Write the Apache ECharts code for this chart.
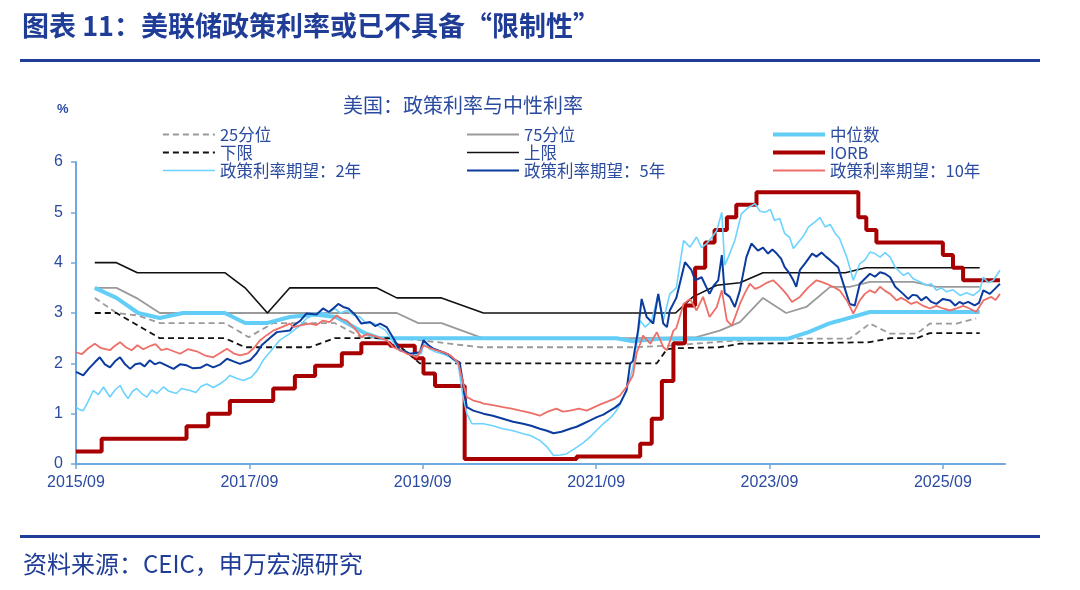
<!DOCTYPE html>
<html>
<head>
<meta charset="utf-8">
<script src="https://cdn.jsdelivr.net/npm/echarts@6/dist/echarts.min.js"></script>
<style>
  html, body { margin: 0; padding: 0; background: #fff; }
  #chart { width: 1080px; height: 590px; }
</style>
</head>
<body>
<div id="chart"></div>
<script>
// x values are months counted from 2015/09
const xTicks = ['2015/09', '2017/09', '2019/09', '2021/09', '2023/09', '2025/09'];

const q25 = [[2.6,3.3],[5.6,3.0],[8.6,2.95],[11.6,2.8],[20.6,2.8],[23.9,2.52],[27.3,2.8],[35.8,2.8],[39.5,2.52],[44,2.5],[47.6,2.46],[55.9,2.32],[77.1,2.32],[82,2.35],[90.1,2.44],[98.6,2.49],[107.1,2.49],[109.9,2.79],[112.7,2.59],[116.4,2.59],[118.2,2.79],[121.9,2.79],[124.6,2.89]];
const q75 = [[2.6,3.5],[5.6,3.5],[8.6,3.28],[11.6,3.0],[44.4,3.0],[47.4,2.8],[50.6,2.8],[55.9,2.52],[56.4,2.5],[77.1,2.5],[85.9,2.52],[89.1,2.65],[91.9,2.82],[95.1,3.3],[98.3,3.0],[101.1,3.12],[104.4,3.52],[107.1,3.52],[109.9,3.62],[115.9,3.62],[119.1,3.52],[125.1,3.52]];
const median = [[2.6,3.5],[5.6,3.3],[8.6,3.0],[11.6,2.9],[14.8,3.0],[20.6,3.0],[23.4,2.8],[26.4,2.8],[29.6,2.92],[33,2.97],[36,2.92],[40,2.6],[42,2.5],[74.8,2.5],[77.1,2.44],[80.8,2.49],[98.6,2.49],[101.4,2.62],[104.2,2.79],[105.7,2.85],[109.9,3.02],[125.1,3.02]];
const lower = [[2.6,3.0],[5.6,3.0],[11.6,2.5],[20.6,2.5],[23.4,2.32],[32.4,2.32],[35.8,2.5],[43.5,2.5],[47.6,2.0],[80.4,2.0],[81.8,2.28],[83,2.3],[89.1,2.32],[91.9,2.39],[105.7,2.41],[109.9,2.42],[112.7,2.5],[116.4,2.5],[118.2,2.6],[125.1,2.6]];
const upper = [[2.6,4.0],[5.6,4.0],[8.5,3.8],[20.6,3.8],[23.4,3.5],[26.5,3.0],[29.6,3.5],[41.6,3.5],[44.4,3.3],[50.6,3.3],[56.4,3.0],[83.0,3.0],[85.4,3.32],[88.7,3.55],[91.9,3.6],[95.1,3.8],[106.5,3.8],[109.3,3.9],[125.1,3.9]];
const iorb = [[0,0.25],[3.55,0.5],[15.3,0.75],[18.3,1.0],[21.3,1.25],[27.3,1.5],[30.3,1.75],[33.1,1.95],[36.8,2.2],[39.5,2.4],[43.5,2.35],[46.9,2.1],[48.1,1.8],[49.7,1.55],[53.8,0.1],[69.3,0.15],[78.1,0.4],[79.7,0.9],[81.1,1.65],[82.7,2.4],[84.3,3.15],[85.7,3.9],[87.1,4.4],[88.4,4.65],[90.1,4.9],[91.4,5.15],[94.2,5.4],[108.3,4.9],[109.4,4.65],[110.8,4.4],[120.0,4.15],[121.4,3.9],[122.8,3.65],[127.9,3.65]];
const exp2y = [[0,1.13],[0.5,1.08],[1.0,1.06],[1.6,1.22],[2.4,1.46],[3.1,1.38],[3.8,1.53],[4.7,1.33],[5.4,1.47],[6.1,1.56],[6.7,1.40],[7.2,1.30],[7.8,1.44],[8.4,1.50],[9.1,1.40],[9.8,1.33],[10.5,1.47],[11.2,1.40],[12.1,1.53],[12.8,1.45],[13.9,1.40],[14.6,1.50],[15.8,1.46],[16.6,1.42],[17.3,1.54],[18.1,1.59],[19.0,1.52],[19.9,1.59],[20.6,1.66],[21.3,1.76],[22.3,1.70],[23.2,1.66],[24.3,1.73],[25.1,1.86],[25.9,2.06],[27.0,2.25],[28.2,2.46],[29.6,2.59],[30.1,2.65],[31.0,2.75],[31.9,2.89],[32.8,2.95],[33.8,3.02],[34.7,2.98],[35.8,3.09],[36.6,3.00],[37.5,3.05],[38.4,2.96],[39.3,2.92],[40.2,2.79],[41.2,2.80],[42.1,2.72],[42.8,2.66],[43.5,2.52],[44.1,2.38],[44.8,2.26],[45.6,2.24],[46.5,2.16],[47.8,2.19],[48.1,2.39],[49.0,2.28],[49.9,2.22],[50.9,2.18],[51.8,2.12],[52.9,1.99],[53.5,1.40],[54.1,1.00],[54.8,0.80],[55.9,0.80],[56.4,0.80],[57.7,0.76],[59.1,0.70],[60.5,0.66],[61.9,0.60],[63.0,0.56],[64.2,0.47],[65.2,0.34],[66.1,0.17],[67.0,0.18],[67.9,0.20],[69.3,0.33],[70.2,0.42],[71.1,0.53],[72.0,0.66],[73.0,0.80],[74.0,0.92],[74.8,1.06],[75.5,1.24],[76.2,1.46],[77.1,1.92],[78.1,2.85],[78.8,2.72],[79.7,2.85],[80.6,3.38],[81.3,2.85],[82.2,3.38],[83.1,3.50],[84.1,4.44],[85.0,4.31],[85.9,4.51],[86.6,4.30],[87.3,4.38],[88.0,4.50],[88.7,4.64],[89.4,5.00],[89.8,3.95],[90.3,4.11],[91.2,4.44],[92.1,4.97],[93.1,5.10],[94.0,5.17],[94.7,5.02],[95.4,5.00],[96.1,5.06],[96.7,4.84],[97.4,4.88],[98.1,4.58],[98.8,4.50],[99.3,4.28],[100.2,4.44],[100.8,4.55],[101.4,4.71],[102.3,4.81],[103.0,4.90],[103.7,4.71],[104.4,4.76],[105.1,4.58],[105.7,4.48],[106.7,4.11],[107.6,3.65],[108.5,3.98],[109.2,4.05],[109.9,4.21],[110.6,4.18],[111.3,4.11],[112.0,4.20],[112.7,4.11],[113.4,3.91],[114.5,3.75],[115.2,3.80],[115.9,3.68],[116.8,3.62],[117.7,3.55],[118.4,3.58],[119.1,3.45],[119.8,3.50],[120.5,3.42],[121.4,3.46],[122.4,3.35],[123.3,3.40],[124.2,3.35],[125.1,3.45],[125.6,3.71],[126.3,3.60],[127.0,3.65],[127.9,3.85]];
const exp5y = [[0,1.83],[1.0,1.76],[1.8,1.90],[2.6,2.02],[3.3,2.12],[4.0,1.98],[4.7,1.92],[5.4,2.04],[6.1,2.12],[6.8,1.98],[7.5,1.89],[8.2,1.98],[8.9,2.0],[9.5,1.94],[10.2,2.06],[10.9,1.98],[11.6,2.02],[12.5,1.96],[13.5,1.89],[14.4,1.98],[15.3,1.96],[16.2,1.90],[17.2,1.91],[18.1,1.98],[19.0,1.92],[20.0,1.98],[20.9,2.09],[21.8,2.04],[22.7,1.99],[24.1,2.06],[25.0,2.20],[25.7,2.36],[26.8,2.50],[27.8,2.62],[29.6,2.65],[30.1,2.75],[31.0,2.84],[31.9,2.99],[33.3,2.97],[34.2,3.09],[35.0,3.02],[35.6,3.09],[36.3,3.18],[37.0,3.12],[37.7,3.09],[38.6,2.97],[39.5,2.79],[40.7,2.82],[41.4,2.74],[42.1,2.79],[43.0,2.72],[44.1,2.46],[44.8,2.26],[45.5,2.24],[46.2,2.19],[47.6,2.22],[48.1,2.46],[48.8,2.36],[49.5,2.29],[50.8,2.22],[51.5,2.18],[52.2,2.09],[53.1,2.02],[53.6,1.59],[54.1,1.13],[55.0,1.06],[56.4,1.0],[57.7,0.96],[59.1,0.9],[60.5,0.84],[61.9,0.8],[63.0,0.76],[64.2,0.7],[65.2,0.66],[66.1,0.61],[67.2,0.64],[68.4,0.7],[69.3,0.74],[70.2,0.8],[71.1,0.86],[72.1,0.93],[73.0,0.98],[73.9,1.06],[74.6,1.12],[75.3,1.2],[76.2,1.46],[76.7,1.99],[77.1,2.05],[77.8,2.65],[78.3,3.28],[79.0,2.92],[79.9,2.79],[80.6,3.38],[81.3,2.79],[81.8,2.72],[82.2,3.05],[83.1,3.30],[84.3,4.01],[85.2,3.85],[85.7,3.65],[86.6,3.71],[87.7,3.38],[88.3,3.55],[88.9,3.65],[89.4,4.15],[89.8,3.40],[90.5,3.32],[91.2,3.12],[91.9,3.45],[92.8,4.11],[93.5,4.38],[94.4,4.24],[95.1,4.30],[95.8,4.18],[96.4,4.26],[97.0,4.18],[97.6,4.08],[98.1,3.91],[98.7,3.80],[99.3,3.65],[99.7,3.52],[100.2,3.85],[101.0,4.00],[101.9,4.18],[102.5,4.12],[103.2,4.20],[103.8,4.12],[104.4,4.05],[105.5,3.91],[106.4,3.50],[107.1,3.18],[107.8,3.15],[108.5,3.58],[109.2,3.68],[109.9,3.78],[110.6,3.72],[111.3,3.81],[112.0,3.78],[112.7,3.71],[113.4,3.52],[114.5,3.38],[115.2,3.28],[115.8,3.36],[116.4,3.35],[117.0,3.25],[117.7,3.32],[118.4,3.22],[119.1,3.18],[120.0,3.28],[121.0,3.25],[121.7,3.15],[122.3,3.22],[122.8,3.18],[123.5,3.22],[124.4,3.15],[125.0,3.20],[125.6,3.45],[126.5,3.38],[127.2,3.48],[127.9,3.58]];
const exp10y = [[0,2.22],[0.8,2.18],[1.7,2.30],[2.6,2.39],[3.5,2.30],[4.7,2.26],[5.3,2.34],[6.1,2.42],[6.9,2.32],[7.7,2.26],[8.5,2.36],[9.3,2.28],[10.2,2.34],[11.0,2.38],[11.8,2.26],[12.6,2.29],[13.5,2.24],[14.4,2.19],[15.5,2.28],[16.7,2.24],[17.8,2.16],[19.0,2.12],[19.9,2.20],[20.9,2.29],[21.8,2.20],[22.7,2.16],[23.8,2.2],[24.6,2.30],[25.5,2.46],[26.4,2.56],[27.3,2.65],[28.5,2.72],[29.6,2.79],[30.1,2.72],[31.2,2.76],[32.4,2.79],[33.3,2.76],[34.2,2.85],[35.1,2.82],[36.1,2.95],[36.8,2.88],[37.5,2.85],[38.6,2.69],[39.5,2.52],[40.3,2.58],[41.1,2.55],[42.1,2.50],[43.0,2.46],[43.9,2.32],[44.9,2.26],[45.8,2.19],[46.5,2.16],[47.2,2.12],[48.1,2.36],[49.0,2.30],[49.9,2.26],[50.9,2.22],[51.8,2.16],[52.9,2.02],[53.5,1.66],[54.1,1.33],[55.0,1.26],[55.9,1.23],[56.4,1.2],[57.7,1.17],[59.1,1.13],[60.3,1.10],[61.5,1.06],[62.8,1.02],[64.2,0.96],[65.3,1.04],[66.5,1.1],[67.4,1.04],[68.4,1.06],[69.6,1.10],[70.7,1.06],[71.6,1.12],[72.5,1.18],[73.2,1.22],[73.9,1.26],[74.6,1.30],[75.3,1.36],[76.2,1.53],[77.1,1.76],[77.6,2.20],[78.1,2.39],[78.5,2.55],[79.5,2.39],[80.4,2.62],[81.3,2.32],[81.8,2.26],[82.7,2.65],[83.1,2.70],[84.1,3.18],[85.0,3.28],[85.9,3.05],[86.8,3.32],[87.7,2.92],[88.7,3.12],[89.4,3.45],[90.1,2.85],[90.8,2.75],[91.9,3.18],[92.6,3.40],[93.3,3.58],[94.0,3.48],[94.7,3.52],[95.6,3.60],[96.5,3.65],[97.2,3.56],[97.9,3.45],[98.5,3.35],[99.1,3.22],[100.2,3.32],[101.3,3.50],[102.5,3.65],[103.2,3.62],[103.9,3.58],[104.8,3.52],[105.7,3.45],[106.7,3.25],[107.6,2.99],[108.5,3.25],[109.2,3.38],[109.9,3.45],[110.6,3.40],[111.3,3.52],[112.0,3.44],[112.7,3.38],[113.6,3.25],[114.2,3.30],[114.9,3.25],[115.6,3.18],[116.4,3.22],[117.3,3.14],[118.2,3.09],[119.1,3.14],[120.0,3.09],[121.0,3.05],[121.9,3.09],[122.8,3.14],[123.7,3.09],[124.6,3.02],[125.6,3.25],[126.7,3.32],[127.3,3.26],[127.9,3.38]];

const navy = '#1f3c96';
const textBlue = '#2a4ba0';
const axisBlue = '#6fa8dc';

function line(name, data, color, width, type, extra) {
    return Object.assign({
        name: name,
        type: 'line',
        data: data,
        symbol: 'none',
        silent: true,
        lineStyle: { color: color, width: width, type: type || 'solid' },
        itemStyle: { color: color }
    }, extra || {});
}

function legendCol(left, names) {
    return {
        orient: 'vertical',
        left: left,
        top: 121,
        itemWidth: 52,
        itemHeight: 12,
        itemGap: 1,
        selectedMode: false,
        itemStyle: { opacity: 0 },
        lineStyle: { width: 'inherit' },
        data: names,
        textStyle: { color: textBlue, fontSize: 16.5, fontFamily: 'Noto Sans CJK SC', lineHeight: 17 }
    };
}

const option = {
    animation: false,
    backgroundColor: '#fff',
    title: [
        { text: '图表 11：美联储政策利率或已不具备“限制性”', left: 17, top: 7,
          textStyle: { color: navy, fontSize: 27, fontWeight: 'bold', fontFamily: 'Noto Sans CJK SC' } },
        { text: '美国：政策利率与中性利率', left: 458, top: 90, textAlign: 'center',
          textStyle: { color: textBlue, fontSize: 20, fontWeight: 'normal', fontFamily: 'Noto Sans CJK SC' } },
        { text: '%', left: 52, top: 98,
          textStyle: { color: textBlue, fontSize: 13, fontWeight: 'bold', fontFamily: 'Liberation Sans' } },
        { text: '资料来源：CEIC，申万宏源研究', left: 18, top: 547,
          textStyle: { color: navy, fontSize: 24, fontWeight: 'normal', fontFamily: 'Noto Sans CJK SC' } }
    ],
    graphic: [
        { type: 'rect', shape: { x: 20, y: 59, width: 1020, height: 3 }, style: { fill: navy } },
        { type: 'rect', shape: { x: 20, y: 535, width: 1020, height: 3 }, style: { fill: navy } }
    ],
    legend: [
        legendCol(157, ['25分位', '下限', '政策利率期望：2年']),
        legendCol(461, ['75分位', '上限', '政策利率期望：5年']),
        legendCol(766, ['中位数', 'IORB', '政策利率期望：10年'])
    ],
    grid: { left: 76, right: 75, top: 162, bottom: 126 },
    xAxis: {
        type: 'value',
        min: 0,
        max: 128.6,
        interval: 24,
        axisLine: { lineStyle: { color: axisBlue, width: 2 } },
        axisTick: { length: 5, lineStyle: { color: axisBlue, width: 1.5 } },
        splitLine: { show: false },
        axisLabel: {
            showMaxLabel: false,
            color: textBlue,
            fontSize: 16,
            fontFamily: 'Liberation Sans',
            margin: 11,
            formatter: function (v) { return xTicks[Math.round(v / 24)] || ''; }
        }
    },
    yAxis: {
        type: 'value',
        min: 0,
        max: 6,
        interval: 1,
        axisLine: { show: true, lineStyle: { color: axisBlue, width: 2 } },
        axisTick: { show: true, length: 5, lineStyle: { color: axisBlue, width: 1.5 } },
        splitLine: { show: false },
        axisLabel: { color: textBlue, fontSize: 16, fontFamily: 'Liberation Sans', margin: 13 }
    },
    series: [
        line('25分位', q25, '#9a9a9a', 1.8, [6, 4]),
        line('75分位', q75, '#9a9a9a', 1.8),
        line('中位数', median, '#62cdf6', 4),
        line('下限', lower, '#111111', 1.8, [6, 4]),
        line('上限', upper, '#111111', 1.6),
        line('IORB', iorb, '#a80000', 4, 'solid', { step: 'end' }),
        line('政策利率期望：2年', exp2y, '#6cd3ff', 1.6),
        line('政策利率期望：5年', exp5y, '#0c3b9e', 2),
        line('政策利率期望：10年', exp10y, '#ee6f68', 1.8)
    ]
};

const chart = echarts.init(document.getElementById('chart'));
chart.setOption(option);
</script>
</body>
</html>
